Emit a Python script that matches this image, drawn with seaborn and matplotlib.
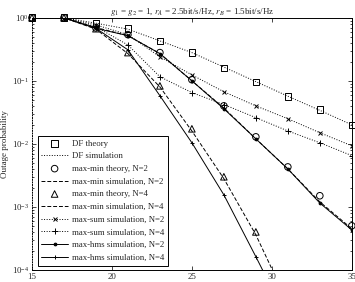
import numpy as np
import pandas as pd
import seaborn as sns
import matplotlib
matplotlib.use('Agg')
import matplotlib.pyplot as plt

sns.set_style('ticks')
plt.rcParams['font.family'] = ['Liberation Serif', 'DejaVu Serif']
plt.rcParams['mathtext.fontset'] = 'stix'

# SNR (dB)
snr = [15, 17, 19, 21, 23, 25, 27, 29, 31, 33, 35]
snr_n4 = [15, 17, 19, 21, 23, 25, 27, 29, 31]

df_theory = [1, 1, 0.83, 0.67, 0.43, 0.28, 0.16, 0.096, 0.056, 0.035, 0.020]
df_sim = [1, 1, 0.82, 0.66, 0.43, 0.28, 0.165, 0.097, 0.057, 0.034, 0.020]
mm_theory_n2 = [1, 1, 0.69, 0.54, 0.28, 0.104, 0.040, 0.0129, 0.0043, 0.0015, 0.0005]
mm_sim_n2 = [1, 1, 0.70, 0.52, 0.27, 0.10, 0.037, 0.012, 0.0040, 0.0012, 0.00045]
mm_theory_n4 = [1, 1, 0.67, 0.28, 0.083, 0.0173, 0.0030, 0.0004, 0.00004]
mm_sim_n4 = [1, 1, 0.66, 0.27, 0.080, 0.016, 0.0028, 0.00036, 0.00003]
ms_sim_n2 = [1, 1, 0.77, 0.54, 0.24, 0.124, 0.067, 0.040, 0.025, 0.015, 0.0093]
ms_sim_n4 = [1, 1, 0.72, 0.37, 0.116, 0.065, 0.042, 0.026, 0.016, 0.0104, 0.0065]
hms_sim_n2 = [1, 1, 0.68, 0.52, 0.27, 0.10, 0.036, 0.012, 0.0040, 0.00115, 0.00043]
hms_sim_n4 = [1, 1, 0.68, 0.31, 0.058, 0.0104, 0.00155, 0.000162, 0.000016]

fig = plt.figure(figsize=(3.55, 2.82), dpi=100)
ax = fig.add_axes([0.090, 0.043, 0.901, 0.894])

lw = 0.7
ms = 4.5

def theory(x, y, marker, label):
    sns.scatterplot(x=x, y=y, ax=ax, marker=marker, s=ms ** 2 * 1.1,
                    facecolor='none', edgecolor='black', linewidth=0.7,
                    label=label, clip_on=False, zorder=3)

def sim(x, y, ls, label, marker=None, msize=4):
    sns.lineplot(x=x, y=y, ax=ax, color='black', linestyle=ls, linewidth=lw,
                 marker=marker, markersize=msize, markeredgewidth=0.7,
                 markerfacecolor='black', markeredgecolor='black',
                 label=label, zorder=2)

theory(snr, df_theory, 's', 'DF theory')
sim(snr, df_sim, ':', 'DF simulation')
theory(snr, mm_theory_n2, 'o', 'max-min theory, N=2')
sim(snr, mm_sim_n2, (0, (4, 2)), 'max-min simulation, N=2')
theory(snr_n4[:-1], mm_theory_n4[:-1], '^', 'max-min theory, N=4')
sim(snr_n4, mm_sim_n4, (0, (4, 2)), 'max-min simulation, N=4')
sim(snr, ms_sim_n2, ':', 'max-sum simulation, N=2', marker='x', msize=3.5)
sim(snr, ms_sim_n4, ':', 'max-sum simulation, N=4', marker='+', msize=5)
sim(snr, hms_sim_n2, '-', 'max-hms simulation, N=2', marker='.', msize=4)
sim(snr_n4, hms_sim_n4, '-', 'max-hms simulation, N=4', marker='+', msize=3)

ax.set_yscale('log')
ax.set_xlim(15, 35)
ax.set_ylim(1e-4, 1)
ax.set_xticks([15, 20, 25, 30, 35])
ax.tick_params(axis='both', which='both', direction='in', top=True, right=True,
               labelsize=6.3, length=3, width=0.6, pad=2)
ax.tick_params(axis='both', which='minor', length=1.5)
ax.set_ylabel('Outage probability', fontsize=6.5, labelpad=2)
ax.set_xlabel('')
ax.set_title(r'$g_1$ = $g_2$ = 1, $r_A$ = 2.5bit/s/Hz, $r_B$ = 1.5bit/s/Hz',
             fontsize=6.5, pad=3)
for side in ['top', 'bottom', 'right', 'left']:
    ax.spines[side].set_linewidth(0.7)
    ax.spines[side].set_color('black')
ax.spines['left'].set_linestyle(':')

leg = ax.legend(loc='lower left', bbox_to_anchor=(0.012, 0.01), fontsize=6.3,
                frameon=True, fancybox=False, framealpha=1, edgecolor='black',
                handlelength=3.0, handletextpad=0.5, labelspacing=0.52,
                borderpad=0.45, borderaxespad=0.2)
leg.get_frame().set_linewidth(0.7)

fig.savefig('out.png', dpi=100)
